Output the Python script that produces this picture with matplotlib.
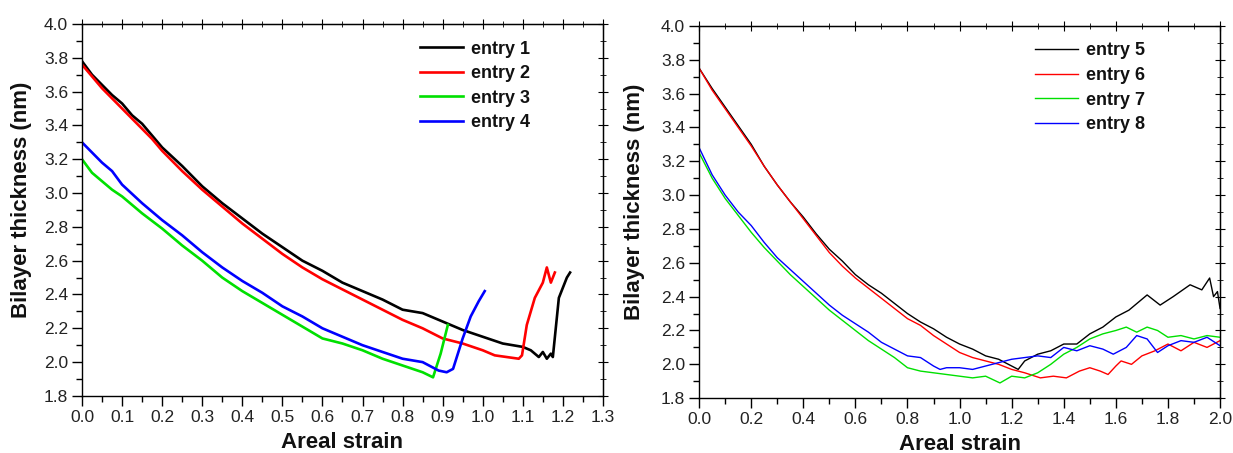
import numpy as np
import matplotlib.pyplot as plt
from matplotlib.ticker import MultipleLocator

plt.rcParams['font.family'] = ['Liberation Sans', 'DejaVu Sans']

# ---- left panel data ----
x1 = [0, .025, .05, .075, .1, .125, .15, .175, .2, .25, .3, .35, .4, .45, .5, .55, .6, .65, .7,
      .75, .8, .85, .9, .95, 1.0, 1.05, 1.1, 1.12, 1.14, 1.15, 1.16, 1.17, 1.175, 1.19, 1.2, 1.21, 1.218]
y1 = [3.78, 3.70, 3.64, 3.58, 3.53, 3.46, 3.41, 3.34, 3.27, 3.16, 3.04, 2.94, 2.85, 2.76, 2.68, 2.60,
      2.54, 2.47, 2.42, 2.37, 2.31, 2.29, 2.24, 2.19, 2.15, 2.11, 2.09, 2.07, 2.03, 2.06, 2.02, 2.05, 2.03,
      2.38, 2.44, 2.50, 2.53]

x2 = [0, .025, .05, .075, .1, .125, .15, .175, .2, .25, .3, .35, .4, .45, .5, .55, .6, .65, .7,
      .75, .8, .85, .9, .95, 1.0, 1.03, 1.06, 1.09, 1.098, 1.11, 1.13, 1.15, 1.16, 1.17, 1.18]
y2 = [3.76, 3.69, 3.62, 3.56, 3.50, 3.44, 3.38, 3.32, 3.25, 3.13, 3.02, 2.92, 2.82, 2.73, 2.64, 2.56,
      2.49, 2.43, 2.37, 2.31, 2.25, 2.20, 2.14, 2.11, 2.07, 2.04, 2.03, 2.02, 2.04, 2.22, 2.38, 2.47,
      2.56, 2.47, 2.53]

x3 = [0, .025, .05, .075, .1, .15, .2, .25, .3, .35, .4, .45, .5, .55, .6, .65, .7, .75, .8, .85,
      .876, .895, .913]
y3 = [3.20, 3.12, 3.07, 3.02, 2.98, 2.88, 2.79, 2.69, 2.60, 2.50, 2.42, 2.35, 2.28, 2.21, 2.14,
      2.11, 2.07, 2.02, 1.98, 1.94, 1.91, 2.05, 2.22]

x4 = [0, .025, .05, .075, .1, .15, .2, .25, .3, .35, .4, .45, .5, .55, .6, .65, .7, .75, .8, .85,
      .89, .91, .926, .95, .97, .99, 1.005]
y4 = [3.30, 3.24, 3.18, 3.13, 3.05, 2.94, 2.84, 2.75, 2.65, 2.56, 2.48, 2.41, 2.33, 2.27, 2.20,
      2.15, 2.10, 2.06, 2.02, 2.00, 1.95, 1.94, 1.96, 2.14, 2.27, 2.36, 2.42]

# ---- right panel data ----
x5 = [0, .05, .1, .15, .2, .25, .3, .35, .4, .45, .5, .55, .6, .65, .7, .75, .8, .85, .9, .95,
      1.0, 1.05, 1.1, 1.15, 1.2, 1.225, 1.25, 1.3, 1.35, 1.4, 1.45, 1.5, 1.55, 1.6, 1.65, 1.72,
      1.77, 1.82, 1.885, 1.93, 1.96, 1.975, 1.99, 2.0]
y5 = [3.75, 3.63, 3.52, 3.41, 3.30, 3.17, 3.06, 2.96, 2.87, 2.77, 2.68, 2.61, 2.53, 2.47, 2.42,
      2.36, 2.30, 2.25, 2.21, 2.16, 2.12, 2.09, 2.05, 2.03, 1.99, 1.97, 2.02, 2.06, 2.08, 2.12,
      2.12, 2.18, 2.22, 2.28, 2.32, 2.41, 2.35, 2.40, 2.47, 2.44, 2.51, 2.40, 2.43, 2.33]

x6 = [0, .05, .1, .15, .2, .25, .3, .35, .4, .45, .5, .55, .6, .65, .7, .75, .8, .85, .9, .95,
      1.0, 1.05, 1.1, 1.15, 1.2, 1.25, 1.31, 1.36, 1.41, 1.46, 1.5, 1.54, 1.57, 1.6, 1.62, 1.66,
      1.7, 1.75, 1.8, 1.85, 1.9, 1.95, 2.0]
y6 = [3.75, 3.62, 3.51, 3.40, 3.29, 3.17, 3.06, 2.96, 2.86, 2.76, 2.66, 2.58, 2.51, 2.45, 2.39,
      2.33, 2.27, 2.23, 2.17, 2.12, 2.07, 2.04, 2.02, 2.00, 1.97, 1.95, 1.92, 1.93, 1.92, 1.96,
      1.98, 1.96, 1.94, 1.99, 2.02, 2.00, 2.05, 2.08, 2.12, 2.08, 2.13, 2.10, 2.14]

x7 = [0, .05, .1, .15, .2, .25, .3, .35, .4, .45, .5, .55, .6, .65, .7, .75, .8, .85, .9, .95,
      1.0, 1.05, 1.1, 1.155, 1.2, 1.25, 1.3, 1.35, 1.4, 1.45, 1.5, 1.55, 1.6, 1.64, 1.68, 1.72,
      1.76, 1.8, 1.85, 1.9, 1.95, 2.0]
y7 = [3.25, 3.10, 2.98, 2.88, 2.78, 2.69, 2.61, 2.53, 2.46, 2.39, 2.32, 2.26, 2.20, 2.14, 2.09,
      2.04, 1.98, 1.96, 1.95, 1.94, 1.93, 1.92, 1.93, 1.89, 1.93, 1.92, 1.95, 2.00, 2.06, 2.10,
      2.15, 2.18, 2.20, 2.22, 2.19, 2.22, 2.20, 2.16, 2.17, 2.15, 2.17, 2.16]

x8 = [0, .05, .1, .15, .2, .25, .3, .35, .4, .45, .5, .55, .6, .65, .7, .75, .8, .85, .9, .925,
      .95, 1.0, 1.05, 1.1, 1.15, 1.2, 1.25, 1.3, 1.35, 1.4, 1.45, 1.5, 1.55, 1.59, 1.64, 1.68,
      1.72, 1.76, 1.8, 1.85, 1.9, 1.95, 2.0]
y8 = [3.28, 3.12, 3.00, 2.90, 2.82, 2.72, 2.63, 2.56, 2.49, 2.42, 2.35, 2.29, 2.24, 2.19, 2.13,
      2.09, 2.05, 2.04, 1.99, 1.97, 1.98, 1.98, 1.97, 1.99, 2.01, 2.03, 2.04, 2.05, 2.04, 2.10,
      2.08, 2.11, 2.09, 2.06, 2.10, 2.17, 2.15, 2.07, 2.11, 2.14, 2.13, 2.16, 2.11]

left_series = [(x1, y1, 'black', 'entry 1'), (x2, y2, 'red', 'entry 2'),
               (x3, y3, '#00e000', 'entry 3'), (x4, y4, 'blue', 'entry 4')]
right_series = [(x5, y5, 'black', 'entry 5'), (x6, y6, 'red', 'entry 6'),
                (x7, y7, '#00e000', 'entry 7'), (x8, y8, 'blue', 'entry 8')]

fig = plt.figure(figsize=(12.33, 4.53), dpi=100)
axL = fig.add_axes([0.0665, 0.126, 0.4225, 0.821])
axR = fig.add_axes([0.567, 0.121, 0.4225, 0.822])


def style(ax, xmax, xmaj, xmin, lw, series, leg_x, ylab_x):
    for x, y, c, lab in series:
        ax.plot(x, y, color=c, lw=lw, label=lab)
    ax.set_xlim(0, xmax)
    ax.set_ylim(1.8, 4.0)
    ax.xaxis.set_major_locator(MultipleLocator(xmaj))
    ax.xaxis.set_minor_locator(MultipleLocator(xmin))
    ax.yaxis.set_major_locator(MultipleLocator(0.2))
    ax.yaxis.set_minor_locator(MultipleLocator(0.1))
    ax.xaxis.set_major_formatter(plt.FormatStrFormatter('%.1f'))
    ax.yaxis.set_major_formatter(plt.FormatStrFormatter('%.1f'))
    ax.tick_params(which='major', direction='out', length=7, width=1, labelsize=12.5,
                   pad=3, labelcolor='#222222')
    ax.tick_params(which='minor', direction='out', length=4, width=1)
    for s in ax.spines.values():
        s.set_linewidth(1.0)
    top = ax.secondary_xaxis('top')
    top.xaxis.set_major_locator(MultipleLocator(xmaj))
    top.xaxis.set_minor_locator(MultipleLocator(xmin))
    top.tick_params(which='major', direction='inout', length=7, labeltop=False)
    top.tick_params(which='minor', direction='inout', length=4)
    right = ax.secondary_yaxis('right')
    right.yaxis.set_major_locator(MultipleLocator(0.2))
    right.yaxis.set_minor_locator(MultipleLocator(0.1))
    right.tick_params(which='major', direction='inout', length=7, labelright=False)
    right.tick_params(which='minor', direction='inout', length=4)
    ax.set_xlabel('Areal strain', fontsize=16, fontweight='bold', labelpad=5, color='#111111')
    ax.set_ylabel('Bilayer thickness (nm)', fontsize=16, fontweight='bold', color='#111111')
    ax.yaxis.set_label_coords(ylab_x, 0.528)
    ax.legend(loc='upper right', bbox_to_anchor=(leg_x, 0.975), frameon=False,
              prop={'weight': 'bold', 'size': 13}, handlelength=2.4, handletextpad=0.45,
              labelspacing=0.42, borderaxespad=0, labelcolor='#111111')


style(axL, 1.3, 0.1, 0.05, 1.9, left_series, 0.874, -0.096)
style(axR, 2.0, 0.2, 0.1, 1.0, right_series, 0.870, -0.104)

fig.savefig('out.png', dpi=100)
